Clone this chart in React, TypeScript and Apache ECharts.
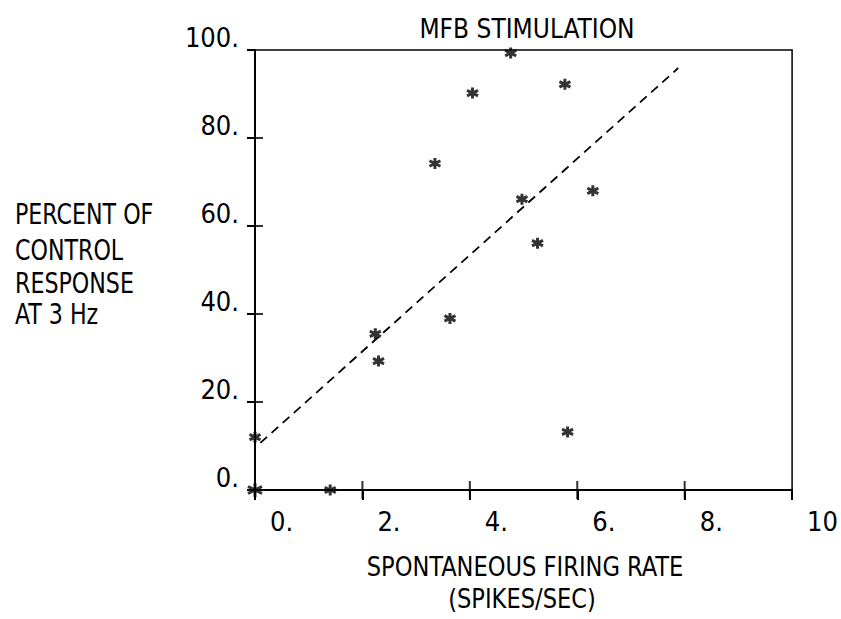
import React, { useEffect, useRef } from "react";
import * as echarts from "echarts";

// Scatter points (spontaneous rate, % of control response)
const rateX = [0, 0, 1.4, 2.24, 2.3, 3.35, 3.63, 4.05, 4.76, 4.97, 5.26, 5.77, 5.82, 6.29];
const responseY = [0, 12, 0, 35.5, 29.3, 74.2, 39, 90.2, 99.3, 66.1, 56.1, 92.2, 13.2, 68];

// Dashed regression line endpoints as drawn
const fitX = [0.1, 7.88];
const fitY = [10.7, 95.9];

const xTicks = [0, 2, 4, 6, 8, 10];
const yTicks = [0, 20, 40, 60, 80, 100];

const titleText = "MFB STIMULATION";
const yNameLines = ["PERCENT OF", "CONTROL", "RESPONSE", "AT 3 Hz"];
const xNameLines = ["SPONTANEOUS FIRING RATE", "(SPIKES/SEC)"];

const FONT = '"DejaVu Sans Condensed", "DejaVu Sans", sans-serif';

export default function App() {
  const ref = useRef<HTMLDivElement>(null);

  useEffect(() => {
    if (!ref.current) return;
    const chart = echarts.init(ref.current, null, { renderer: "svg" });

    const xLabel = (v: number) => (v === 10 ? "10" : `${v}.`);
    const yLabel = (v: number) => `${v}.`;

    const xMin = xTicks[0];
    const xMax = xTicks[xTicks.length - 1];
    const yMin = yTicks[0];
    const yMax = yTicks[yTicks.length - 1];

    // crossing tick marks (plotter style), placed through the axes' scales
    const innerXTicks = xTicks.filter((v) => v !== xMin && v !== xMax);
    const innerYTicks = yTicks.filter((v) => v !== yMin && v !== yMax);

    const option: any = {
      animation: false,
      backgroundColor: "#fff",
      grid: {
        left: 255,
        right: 32,
        top: 50,
        bottom: 129,
        show: true,
        borderColor: "#000",
        borderWidth: 1.5,
        backgroundColor: "transparent",
      },
      xAxis: {
        type: "value",
        min: xMin,
        max: xMax,
        interval: 2,
        position: "bottom",
        splitLine: { show: false },
        axisLine: { show: true, onZero: false, lineStyle: { color: "#000", width: 2 } },
        axisTick: { show: true, inside: false, length: 10, lineStyle: { color: "#000", width: 2 } },
        axisLabel: {
          formatter: xLabel,
          align: "left",
          padding: [0, 0, 0, 15],
          margin: 18,
          fontSize: 27,
          color: "#000",
          fontFamily: FONT,
        },
      },
      yAxis: {
        type: "value",
        min: yMin,
        max: yMax,
        interval: 20,
        position: "left",
        splitLine: { show: false },
        axisLine: { show: true, onZero: false, lineStyle: { color: "#000", width: 2 } },
        axisTick: { show: true, inside: false, length: 8, lineStyle: { color: "#000", width: 2 } },
        axisLabel: {
          formatter: yLabel,
          margin: 16,
          fontSize: 27,
          color: "#000",
          fontFamily: FONT,
          verticalAlign: "bottom",
          lineHeight: 27,
          padding: [0, 0, -1, 0],
        },
      },
      series: [
        {
          type: "scatter",
          silent: true,
          clip: false,
          data: innerXTicks.map((v) => [v, yMin]),
          symbol: "rect",
          symbolSize: [2, 18],
          itemStyle: { color: "#000" },
          z: 4,
        },
        {
          type: "scatter",
          silent: true,
          clip: false,
          data: innerYTicks.map((v) => [xMin, v]),
          symbol: "rect",
          symbolSize: [16, 2],
          itemStyle: { color: "#000" },
          z: 4,
        },
        {
          type: "line",
          data: fitX.map((x, i) => [x, fitY[i]]),
          symbol: "none",
          lineStyle: { color: "#000", width: 1.8, type: [9, 6] },
          silent: true,
        },
        {
          type: "scatter",
          clip: false,
          data: rateX.map((x, i) => ({
            value: [x, responseY[i]],
            symbolSize: x === 0 && responseY[i] === 0 ? 14 : 11,
          })),
          symbol: "path://M5 0 L5 10 M0.67 2.5 L9.33 7.5 M0.67 7.5 L9.33 2.5",
          itemStyle: { color: "#000", borderColor: "#000", borderWidth: 3 },
          z: 5,
        },
      ],
      graphic: [
        {
          type: "text",
          x: 527,
          y: 16,
          style: {
            text: titleText,
            textAlign: "center",
            textVerticalAlign: "top",
            fontSize: 26,
            fontFamily: FONT,
            fill: "#000",
          },
        },
        ...yNameLines.map((t, i) => ({
          type: "text",
          x: 15,
          y: [200, 236, 269, 300][i],
          scaleX: 0.88,
          style: {
            text: t,
            textAlign: "left",
            textVerticalAlign: "top",
            fontSize: 28,
            fontFamily: FONT,
            fill: "#000",
          },
        })),
        ...xNameLines.map((t, i) => ({
          type: "text",
          x: [525, 522][i],
          y: [553, 585][i],
          scaleX: 0.93,
          style: {
            text: t,
            textAlign: "center",
            textVerticalAlign: "top",
            fontSize: 27,
            fontFamily: FONT,
            fill: "#000",
          },
        })),
      ],
    };

    chart.setOption(option);
    return () => chart.dispose();
  }, []);

  return (
    <div
      ref={ref}
      style={{ position: "fixed", left: 0, top: 0, width: 841, height: 619, background: "#fff" }}
    />
  );
}
